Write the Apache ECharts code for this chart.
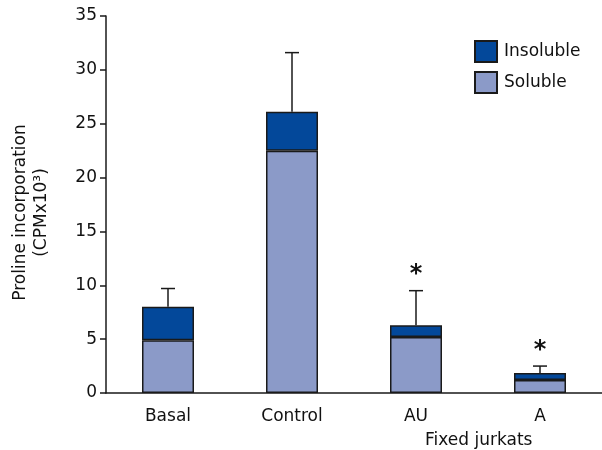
<!DOCTYPE html>
<html>
<head>
<meta charset="utf-8">
<script src="https://cdn.jsdelivr.net/npm/echarts@6/dist/echarts.min.js"></script>
<style>
    html, body { margin: 0; padding: 0; background: #fff; }
    #chart { width: 602px; height: 450px; }
</style>
</head>
<body>
<div id="chart"></div>
<script>
// data
var categories = ['Basal', 'Control', 'AU', 'A'];
var soluble = [4.9, 22.5, 5.2, 1.2];
var insoluble = [3.1, 3.6, 1.1, 0.65];
var errorTop = [9.7, 31.6, 9.5, 2.5];
// asterisks (significance) placed above AU and A
var starY = [null, null, 11.0, 3.9];
var yTicks = [0, 5, 10, 15, 20, 25, 30, 35];

(function(window, document, undefined) {
    var FONT = 'DejaVu Sans';
    var INK = '#111';

    var totals = soluble.map(function(v, i) {
        return v + insoluble[i];
    });

    /*
      误差线: [类别, 柱顶, 误差顶]
     */
    var errData = categories.map(function(c, i) {
        return [i, totals[i], errorTop[i]];
    });
    var starData = [];
    starY.forEach(function(v, i) {
        if (v !== null) starData.push([i, v]);
    });

    var renderError = function(params, api) {
        var lo = api.coord([api.value(0), api.value(1)]);
        var hi = api.coord([api.value(0), api.value(2)]);
        var half = 7;
        var style = { stroke: '#1a1a1a', lineWidth: 1.5 };
        return {
            type: 'group',
            children: [{
                type: 'line',
                shape: { x1: lo[0], y1: lo[1], x2: hi[0], y2: hi[1] },
                style: style
            }, {
                type: 'line',
                shape: { x1: hi[0] - half, y1: hi[1], x2: hi[0] + half, y2: hi[1] },
                style: style
            }]
        };
    };

    var renderStar = function(params, api) {
        var p = api.coord([api.value(0), api.value(1)]);
        return {
            type: 'text',
            x: p[0],
            y: p[1],
            style: {
                text: '*',
                font: 'bold 24px ' + FONT,
                fill: INK,
                align: 'center',
                verticalAlign: 'middle'
            }
        };
    };

    var option = {
        animation: false,
        backgroundColor: '#fff',
        grid: { left: 106, top: 16, width: 498, height: 377 },
        legend: {
            data: ['Insoluble', 'Soluble'],
            orient: 'vertical',
            left: 474,
            top: 40,
            padding: 0,
            itemWidth: 22,
            itemHeight: 21,
            itemGap: 8,
            icon: 'rect',
            textStyle: { fontFamily: FONT, fontSize: 17, color: INK, padding: [0, 0, 0, 2] }
        },
        xAxis: {
            type: 'category',
            data: categories,
            axisLine: { lineStyle: { color: '#1a1a1a', width: 1.5 } },
            axisTick: { show: false },
            axisLabel: { fontFamily: FONT, fontSize: 17, color: INK, margin: 15 }
        },
        yAxis: {
            type: 'value',
            min: 0,
            max: 35,
            interval: 5,
            name: 'Proline incorporation\n(CPMx10\u00b3)',
            nameLocation: 'middle',
            nameRotate: 90,
            nameGap: 54,
            nameTextStyle: { fontFamily: FONT, fontSize: 17, color: INK, lineHeight: 21, padding: [0, 16, 0, 0] },
            splitLine: { show: false },
            axisLine: { show: true, lineStyle: { color: '#1a1a1a', width: 1.5 } },
            axisTick: { show: true, length: 6, lineStyle: { color: '#1a1a1a', width: 1.5 } },
            axisLabel: {
                fontFamily: FONT, fontSize: 17, color: INK, margin: 9,
                customValues: yTicks
            }
        },
        graphic: [{
            type: 'text',
            left: 480 - 55,
            top: 432,
            style: { text: 'Fixed jurkats', font: '17px ' + FONT, fill: INK }
        }],
        series: [{
            name: 'Soluble',
            type: 'bar',
            stack: 'total',
            barWidth: 52,
            data: soluble,
            itemStyle: { color: '#8b9ac8', borderColor: '#1a1a1a', borderWidth: 1.5 }
        }, {
            name: 'Insoluble',
            type: 'bar',
            stack: 'total',
            barWidth: 52,
            data: insoluble,
            itemStyle: { color: '#03489a', borderColor: '#1a1a1a', borderWidth: 1.5 }
        }, {
            type: 'custom',
            renderItem: renderError,
            data: errData,
            z: 5
        }, {
            type: 'custom',
            renderItem: renderStar,
            data: starData,
            z: 5
        }]
    };

    var myChart = echarts.init(document.getElementById('chart'));
    myChart.setOption(option);
}(window, document));
</script>
</body>
</html>
